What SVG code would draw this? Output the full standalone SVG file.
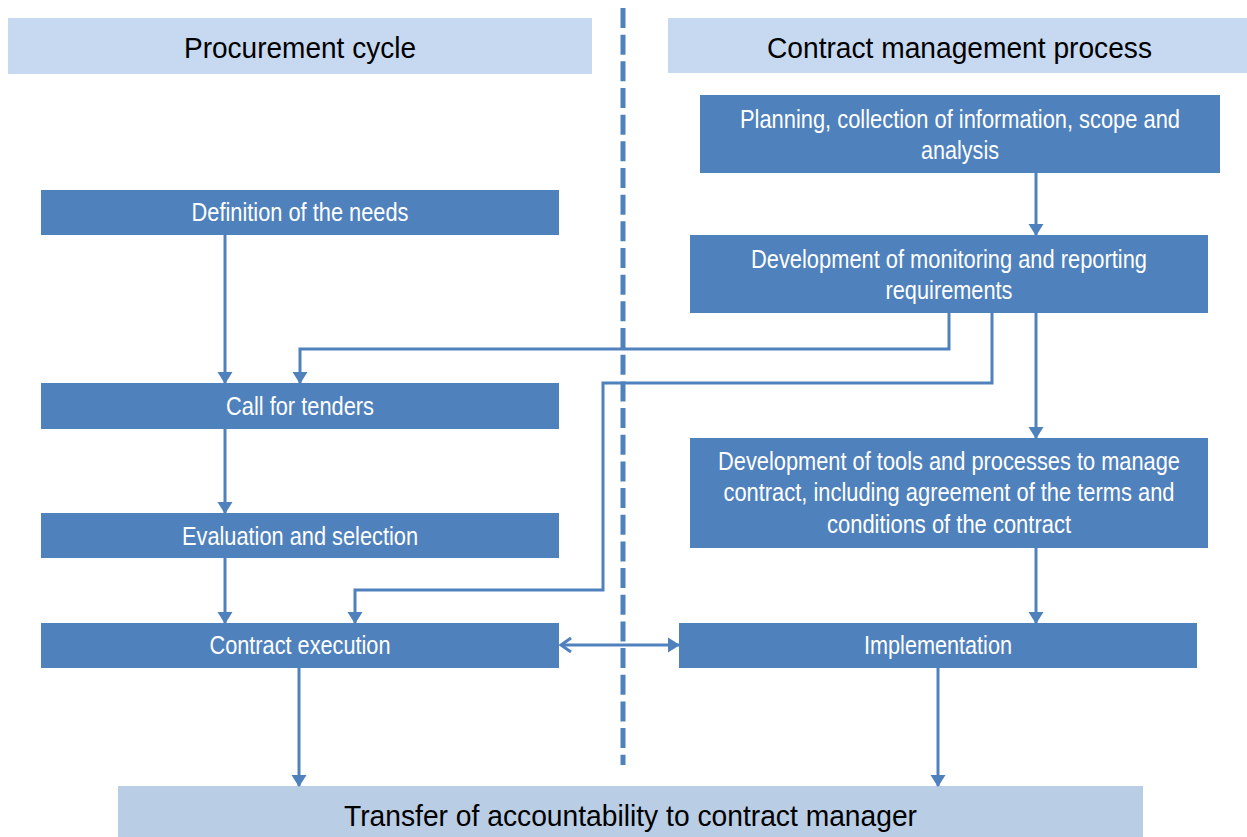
<svg xmlns="http://www.w3.org/2000/svg" width="1247" height="837" viewBox="0 0 1247 837">
<style>
.hdr{fill:#c6d9f1}
.box{fill:#4f81bd}
.foot{fill:#b9cde5}
.t{font-family:"Liberation Sans",Arial,sans-serif;fill:#ffffff;font-size:25px;text-anchor:middle}
.h{font-family:"Liberation Sans",Arial,sans-serif;fill:#000000;font-size:30px;text-anchor:middle}
.c{fill:none;stroke:#4f81bd;stroke-width:3}
</style>
<defs>
<marker id="arr" markerUnits="userSpaceOnUse" orient="auto" refX="11" refY="0" markerWidth="13" markerHeight="16" viewBox="0 -8 13 16" overflow="visible">
<path d="M0,-7.5 L12,0 L0,7.5 z" fill="#4f81bd"/>
</marker>
<marker id="open" markerUnits="userSpaceOnUse" orient="auto-start-reverse" refX="0" refY="0" markerWidth="14" markerHeight="16" viewBox="-12 -8 14 16" overflow="visible">
<path d="M-10,-7 L0,0 L-10,7" fill="none" stroke="#4f81bd" stroke-width="3"/>
</marker>
</defs>

<g id="divider">
<line x1="623" y1="8" x2="623" y2="765" stroke="#4f81bd" stroke-width="5" stroke-dasharray="20 6.67"/>
</g>

<g id="header-procurement">
<rect class="hdr" x="8" y="18" width="584" height="56"/>
<text class="h" x="300" y="58" textLength="232" lengthAdjust="spacingAndGlyphs">Procurement cycle</text>
</g>
<g id="header-contract">
<rect class="hdr" x="668" y="18" width="579" height="55"/>
<text class="h" x="959.5" y="58" textLength="385" lengthAdjust="spacingAndGlyphs">Contract management process</text>
</g>

<g id="definition">
<rect class="box" x="41" y="190" width="518" height="45"/>
<text class="t" x="300" y="221" textLength="217" lengthAdjust="spacingAndGlyphs">Definition of the needs</text>
</g>
<g id="call">
<rect class="box" x="41" y="383" width="518" height="46"/>
<text class="t" x="300" y="415" textLength="148" lengthAdjust="spacingAndGlyphs">Call for tenders</text>
</g>
<g id="evaluation">
<rect class="box" x="41" y="513" width="518" height="45"/>
<text class="t" x="300" y="545" textLength="236" lengthAdjust="spacingAndGlyphs">Evaluation and selection</text>
</g>
<g id="execution">
<rect class="box" x="41" y="623" width="518" height="45"/>
<text class="t" x="300" y="654" textLength="181" lengthAdjust="spacingAndGlyphs">Contract execution</text>
</g>

<g id="planning">
<rect class="box" x="700" y="95" width="520" height="78"/>
<text class="t" x="960" y="128" textLength="440" lengthAdjust="spacingAndGlyphs">Planning, collection of information, scope and</text>
<text class="t" x="960" y="159" textLength="78" lengthAdjust="spacingAndGlyphs">analysis</text>
</g>
<g id="monitoring">
<rect class="box" x="690" y="235" width="518" height="78"/>
<text class="t" x="949" y="268" textLength="396" lengthAdjust="spacingAndGlyphs">Development of monitoring and reporting</text>
<text class="t" x="949" y="299" textLength="127" lengthAdjust="spacingAndGlyphs">requirements</text>
</g>
<g id="tools">
<rect class="box" x="690" y="438" width="518" height="110"/>
<text class="t" x="949" y="470" textLength="462" lengthAdjust="spacingAndGlyphs">Development of tools and processes to manage</text>
<text class="t" x="949" y="501" textLength="451" lengthAdjust="spacingAndGlyphs">contract, including agreement of the terms and</text>
<text class="t" x="949" y="533" textLength="244" lengthAdjust="spacingAndGlyphs">conditions of the contract</text>
</g>
<g id="implementation">
<rect class="box" x="679" y="623" width="518" height="45"/>
<text class="t" x="938" y="654" textLength="148" lengthAdjust="spacingAndGlyphs">Implementation</text>
</g>

<g id="transfer">
<rect class="foot" x="118" y="786" width="1025" height="51"/>
<text class="h" x="630.5" y="826" font-size="31" textLength="573" lengthAdjust="spacingAndGlyphs">Transfer of accountability to contract manager</text>
</g>

<g id="connectors">
<path class="c" d="M225,235 V383" marker-end="url(#arr)"/>
<path class="c" d="M225,429 V513" marker-end="url(#arr)"/>
<path class="c" d="M225,558 V623" marker-end="url(#arr)"/>
<path class="c" d="M299,668 V786" marker-end="url(#arr)"/>
<path class="c" d="M938,668 V786" marker-end="url(#arr)"/>
<path class="c" d="M1036,173 V235" marker-end="url(#arr)"/>
<path class="c" d="M1036,313 V438" marker-end="url(#arr)"/>
<path class="c" d="M1036,548 V623" marker-end="url(#arr)"/>
<path class="c" d="M949,313 V349 H300 V383" marker-end="url(#arr)"/>
<path class="c" d="M992,313 V383 H603 V590 H355 V623" marker-end="url(#arr)"/>
<path class="c" d="M561,645 H679" marker-start="url(#open)" marker-end="url(#arr)"/>
</g>
</svg>
